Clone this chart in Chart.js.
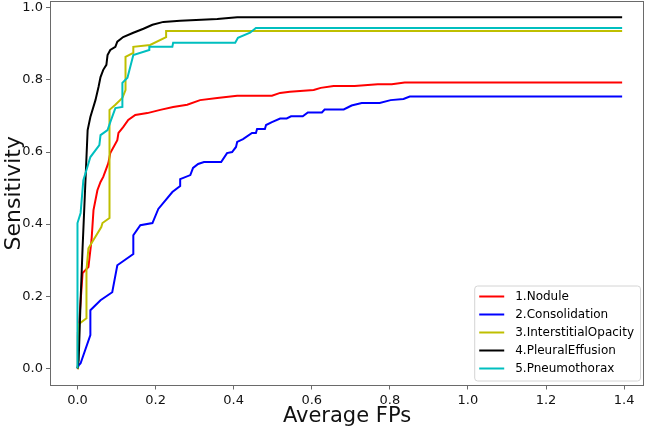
<!DOCTYPE html>
<html>
<head>
<meta charset="utf-8">
<script src="https://cdn.jsdelivr.net/npm/chart.js@4.4.0/dist/chart.umd.min.js"></script>
<style>
    html, body { margin: 0; padding: 0; background: #fff; }
    #wrap { width: 645px; height: 429px; }
</style>
</head>
<body>
<div id="wrap"><canvas id="froc-graph" width="645" height="429"></canvas></div>
<script>
// FROC curves per finding type
const seriesLabels = ['1.Nodule', '2.Consolidation', '3.InterstitialOpacity', '4.PleuralEffusion', '5.Pneumothorax'];
const seriesColors = ['#ff0000', '#0000ff', '#bfbf00', '#000000', '#00bfbf'];

const fpTicks = [0.0, 0.2, 0.4, 0.6, 0.8, 1.0, 1.2, 1.4];
const sensTicks = [0.0, 0.2, 0.4, 0.6, 0.8, 1.0];

const noduleFP = [0, 0.001, 0.003, 0.013, 0.028, 0.036, 0.041, 0.051, 0.059, 0.066, 0.079, 0.084, 0.102, 0.105, 0.117, 0.13, 0.148, 0.179, 0.212, 0.245, 0.281, 0.314, 0.358, 0.409, 0.498, 0.519, 0.544, 0.605, 0.623, 0.656, 0.71, 0.769, 0.805, 0.838, 1.395];
const noduleSens = [0, 0.1, 0.106, 0.264, 0.281, 0.356, 0.439, 0.494, 0.517, 0.531, 0.569, 0.597, 0.633, 0.653, 0.669, 0.689, 0.703, 0.708, 0.717, 0.725, 0.731, 0.744, 0.75, 0.756, 0.756, 0.764, 0.767, 0.772, 0.778, 0.783, 0.783, 0.788, 0.788, 0.793, 0.793];

const consolFP = [0, 0.003, 0.008, 0.033, 0.033, 0.059, 0.089, 0.102, 0.143, 0.143, 0.161, 0.192, 0.207, 0.243, 0.263, 0.263, 0.289, 0.296, 0.309, 0.324, 0.368, 0.383, 0.396, 0.406, 0.409, 0.424, 0.447, 0.457, 0.46, 0.48, 0.483, 0.498, 0.519, 0.536, 0.547, 0.577, 0.59, 0.626, 0.633, 0.682, 0.702, 0.728, 0.774, 0.802, 0.835, 0.851, 1.395];
const consolSens = [0, 0.008, 0.014, 0.092, 0.161, 0.189, 0.211, 0.286, 0.317, 0.369, 0.397, 0.403, 0.442, 0.489, 0.506, 0.525, 0.536, 0.556, 0.567, 0.572, 0.572, 0.597, 0.6, 0.614, 0.628, 0.636, 0.653, 0.653, 0.664, 0.664, 0.675, 0.683, 0.693, 0.693, 0.699, 0.699, 0.71, 0.71, 0.718, 0.718, 0.729, 0.736, 0.736, 0.744, 0.747, 0.754, 0.754];

const interFP = [0, 0.001, 0.003, 0.023, 0.023, 0.028, 0.061, 0.064, 0.082, 0.082, 0.097, 0.115, 0.123, 0.123, 0.143, 0.143, 0.186, 0.227, 0.227, 1.395];
const interSens = [0, 0.09, 0.122, 0.139, 0.272, 0.333, 0.392, 0.403, 0.417, 0.717, 0.731, 0.75, 0.772, 0.864, 0.875, 0.892, 0.897, 0.919, 0.936, 0.936];

const pleuralFP = [0, 0.003, 0.008, 0.013, 0.026, 0.033, 0.046, 0.054, 0.059, 0.066, 0.074, 0.077, 0.084, 0.097, 0.102, 0.117, 0.143, 0.169, 0.192, 0.22, 0.263, 0.358, 0.409, 1.395];
const pleuralSens = [0, 0.022, 0.189, 0.333, 0.661, 0.697, 0.744, 0.781, 0.808, 0.828, 0.842, 0.869, 0.883, 0.892, 0.906, 0.919, 0.931, 0.942, 0.953, 0.961, 0.964, 0.969, 0.974, 0.974];

const pneumoFP = [0, 0, 0.008, 0.015, 0.023, 0.033, 0.056, 0.059, 0.077, 0.084, 0.097, 0.115, 0.115, 0.128, 0.143, 0.184, 0.184, 0.243, 0.245, 0.404, 0.411, 0.442, 0.457, 1.395];
const pneumoSens = [0, 0.403, 0.431, 0.522, 0.55, 0.586, 0.619, 0.647, 0.661, 0.683, 0.722, 0.725, 0.792, 0.806, 0.869, 0.883, 0.892, 0.892, 0.903, 0.903, 0.917, 0.931, 0.944, 0.944];

const seriesFP = [noduleFP, consolFP, interFP, pleuralFP, pneumoFP];
const seriesSens = [noduleSens, consolSens, interSens, pleuralSens, pneumoSens];

const FONT = '"DejaVu Sans", sans-serif';
const AXIS_GRAY = '#6a6a6a';

// box around the plot area, like matplotlib spines
const framePlugin = {
    id: 'frame',
    afterDatasetsDraw(chart) {
        const a = chart.chartArea;
        const ctx = chart.ctx;
        ctx.save();
        ctx.strokeStyle = AXIS_GRAY;
        ctx.lineWidth = 1;
        ctx.strokeRect(Math.round(a.left) + 0.5, Math.round(a.top) + 0.5,
            Math.round(a.right - a.left) - 1, Math.round(a.bottom - a.top) - 1);
        ctx.restore();
    }
};

// legend box drawn inside the plot, lower right
const insideLegend = {
    id: 'insideLegend',
    afterDraw(chart) {
        const a = chart.chartArea;
        const ctx = chart.ctx;
        const rowH = 18;
        const lineLen = 25;
        ctx.save();
        ctx.font = '12px ' + FONT;
        let textW = 0;
        chart.data.datasets.forEach(ds => { textW = Math.max(textW, ctx.measureText(ds.label).width); });
        const w = 5 + lineLen + 11 + textW + 6;
        const h = rowH * chart.data.datasets.length + 5;
        const x0 = a.right - 4 - w;
        const y0 = a.bottom - 5 - h;

        ctx.beginPath();
        ctx.roundRect(x0 + 0.5, y0 + 0.5, w, h, 3);
        ctx.fillStyle = 'rgba(255,255,255,0.85)';
        ctx.fill();
        ctx.strokeStyle = '#d4d4d4';
        ctx.lineWidth = 1;
        ctx.stroke();

        chart.data.datasets.forEach((ds, i) => {
            const cy = y0 + 11 + i * rowH;
            ctx.beginPath();
            ctx.moveTo(x0 + 5, cy);
            ctx.lineTo(x0 + 5 + lineLen, cy);
            ctx.strokeStyle = ds.borderColor;
            ctx.lineWidth = 2;
            ctx.stroke();
            ctx.fillStyle = '#000';
            ctx.textBaseline = 'middle';
            ctx.textAlign = 'left';
            ctx.fillText(ds.label, x0 + 5 + lineLen + 11, cy);
        });
        ctx.restore();
    }
};

function buildDatasets() {
    return seriesLabels.map((label, i) => ({
        label: label,
        data: seriesFP[i].map((fp, j) => ({ x: fp, y: seriesSens[i][j] })),
        borderColor: seriesColors[i],
        backgroundColor: seriesColors[i],
        borderWidth: 2,
        pointRadius: 0,
        tension: 0,
        fill: false,
        order: seriesLabels.length - 1 - i // later series on top
    }));
}

const ctx = document.getElementById('froc-graph').getContext('2d');
const chart = new Chart(ctx, {
    type: 'line',
    data: { datasets: buildDatasets() },
    plugins: [framePlugin, insideLegend],
    options: {
        responsive: false,
        animation: false,
        devicePixelRatio: 1,
        layout: {
            padding: { top: 1, right: 1, left: 0, bottom: 0 }
        },
        plugins: {
            legend: { display: false },
            tooltip: { enabled: false }
        },
        scales: {
            x: {
                type: 'linear',
                min: -0.0704,
                max: 1.451,
                afterBuildTicks: scale => { scale.ticks = fpTicks.map(v => ({ value: v })); },
                afterFit: scale => {
                    scale.height = 43.5;
                    scale.paddingLeft = 0;
                    scale.paddingRight = 0;
                },
                grid: {
                    drawOnChartArea: false,
                    drawTicks: true,
                    tickLength: 4,
                    color: AXIS_GRAY
                },
                border: { display: false },
                ticks: {
                    padding: 3,
                    color: '#111',
                    font: { family: FONT, size: 13 },
                    maxRotation: 0,
                    callback: v => v.toFixed(1)
                },
                title: {
                    display: true,
                    text: 'Average FPs',
                    color: '#111',
                    font: { family: FONT, size: 21 },
                    padding: { top: 0, bottom: 0 }
                }
            },
            y: {
                type: 'linear',
                min: -0.0477,
                max: 1.019,
                afterBuildTicks: scale => { scale.ticks = sensTicks.map(v => ({ value: v })); },
                afterFit: scale => {
                    scale.width = 50;
                    scale.paddingTop = 0;
                    scale.paddingBottom = 0;
                },
                grid: {
                    drawOnChartArea: false,
                    drawTicks: true,
                    tickLength: 4,
                    color: AXIS_GRAY
                },
                border: { display: false },
                ticks: {
                    padding: 3,
                    color: '#111',
                    font: { family: FONT, size: 13 },
                    callback: v => v.toFixed(1)
                },
                title: {
                    display: true,
                    text: 'Sensitivity',
                    color: '#111',
                    font: { family: FONT, size: 22 },
                    padding: { top: 1, bottom: 0 }
                }
            }
        }
    }
});
</script>
</body>
</html>
